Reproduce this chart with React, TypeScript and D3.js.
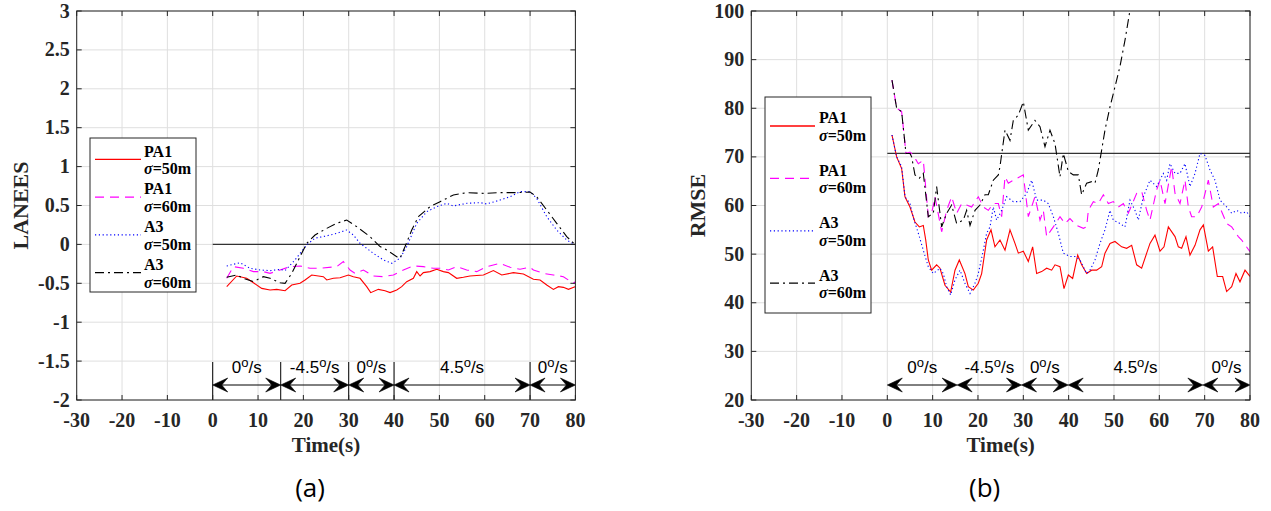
import React from 'react';
import * as d3 from 'd3';

// ---------- shared axis data ----------
const xTicks = [-30, -20, -10, 0, 10, 20, 30, 40, 50, 60, 70, 80];
const lanTicks = [-2, -1.5, -1, -0.5, 0, 0.5, 1, 1.5, 2, 2.5, 3];
const rmseTicks = [20, 30, 40, 50, 60, 70, 80, 90, 100];
const seriesNames = ['PA1', 'PA1', 'A3', 'A3'];
const seriesSigma = ['=50m', '=60m', '=50m', '=60m'];

// ---------- (a) LANEES ----------
const L_pa1_50_t = [3.09,5.29,7.5,8.97,10.81,12.65,14.12,15.96,17.43,19.26,20.37,21.84,23.31,24.41,25.15,26.62,28.09,29.93,31.03,32.5,33.97,34.85,36.54,38.01,39.12,40.59,41.69,42.79,44.26,45,45.74,46.47,47.94,49.41,50.88,51.99,53.82,55.29,56.76,59.71,61.91,63.75,66.32,68.53,70.74,72.21,73.68,75.15,76.25,77.35,78.46,79.93];
const L_pa1_50_v = [-0.543,-0.406,-0.436,-0.492,-0.565,-0.586,-0.578,-0.595,-0.522,-0.5,-0.457,-0.393,-0.406,-0.415,-0.457,-0.436,-0.428,-0.393,-0.415,-0.436,-0.543,-0.62,-0.578,-0.595,-0.62,-0.586,-0.543,-0.479,-0.436,-0.35,-0.406,-0.363,-0.35,-0.32,-0.35,-0.363,-0.436,-0.423,-0.406,-0.393,-0.337,-0.393,-0.363,-0.38,-0.449,-0.457,-0.522,-0.578,-0.543,-0.552,-0.578,-0.543];

const L_pa1_60_t = [3.09,4.56,6.76,8.97,11.18,12.65,14.85,17.06,19.26,21.47,23.68,27.35,28.82,30.29,31.4,33.24,35.44,37.65,39.85,42.06,44.26,46.47,48.68,50.15,51.99,53.82,56.03,58.24,60.44,61.91,63.38,65.59,67.79,70,70.74,72.94,75.15,77.35,79.56,80];
const L_pa1_60_v = [-0.436,-0.286,-0.307,-0.35,-0.35,-0.372,-0.329,-0.286,-0.277,-0.307,-0.307,-0.286,-0.221,-0.329,-0.372,-0.329,-0.406,-0.415,-0.393,-0.329,-0.277,-0.286,-0.307,-0.307,-0.329,-0.286,-0.329,-0.35,-0.286,-0.265,-0.243,-0.294,-0.32,-0.294,-0.329,-0.372,-0.393,-0.415,-0.5,-0.48];

const L_a3_50_t = [3.09,6.03,8.24,10.44,12.65,14.85,15.96,18.16,20.74,22.57,25.15,27.35,29.56,31.03,32.5,35.44,37.65,39.49,41.32,42.79,45,47.21,49.41,51.62,53.09,56.03,58.97,60.44,63.38,65.59,67.79,70,71.47,73.68,75.88,78.09,80];
const L_a3_50_v = [-0.277,-0.235,-0.307,-0.329,-0.337,-0.32,-0.337,-0.199,-0.006,0.08,0.11,0.142,0.185,0.12,0.014,-0.115,-0.199,-0.243,-0.178,-0.028,0.271,0.42,0.485,0.528,0.494,0.528,0.537,0.52,0.57,0.613,0.678,0.678,0.592,0.356,0.185,0.056,-0.006];

const L_a3_60_t = [3.09,5.29,6.76,8.97,11.18,12.65,14.85,15.96,17.43,19.26,20.74,22.57,25.15,27.35,29.56,31.76,34.71,36.91,38.38,40.59,41.32,42.43,43.9,45.37,47.94,50.15,53.09,56.03,59.71,63.38,66.32,70,71.47,73.68,75.88,78.09,80];
const L_a3_60_v = [-0.423,-0.393,-0.436,-0.479,-0.415,-0.436,-0.492,-0.5,-0.372,-0.158,0.014,0.12,0.206,0.271,0.313,0.228,0.099,-0.028,-0.071,-0.158,-0.178,-0.028,0.185,0.356,0.485,0.549,0.635,0.665,0.656,0.665,0.665,0.673,0.613,0.442,0.271,0.099,-0.006];

// ---------- (b) RMSE ----------
const R_pa1_50_t = [1.03,2.06,3.16,3.9,5,6.1,7.06,7.94,8.46,9.04,9.78,10.88,11.62,12.72,13.97,14.93,15.88,17.13,17.87,18.97,20.07,20.81,21.91,22.87,23.75,24.85,25.96,27.06,28.16,28.9,30,31.1,32.06,32.94,34.04,35.15,36.25,36.99,38.09,38.97,39.93,40.88,41.99,42.87,43.97,45.07,46.18,47.28,48.01,49.12,50.22,51.69,52.79,53.9,55,56.1,57.21,57.94,59.04,60.15,61.03,61.99,63.46,64.19,64.93,65.88,66.76,67.87,68.97,69.71,70.81,71.76,72.79,73.97,74.85,75.96,76.91,77.79,78.9,80];
const R_pa1_50_v = [74.5,70,67.6,61.8,59.7,56.6,55.6,55.9,53,48.8,46.7,47.8,47.1,43.6,42.2,46.7,48.8,46,43.3,42.6,44,46,52.9,55,51.5,52.9,50.8,55,52.2,50.2,50.6,48.5,51.5,46,46.4,47.1,46.7,47.8,47.4,42.9,45.7,45,49.8,47.8,46,46.7,46.7,47.4,50.2,52.2,52.6,51.5,51.2,51.8,47.8,47.1,50.2,52.2,53.9,50.6,51.5,55.6,53.6,51.5,51.2,53.6,49.8,51.8,55,56,50.6,51.5,45.4,45.4,42.3,43.3,46,44.3,46.7,45.4];

const R_pa1_60_t = [1.03,2.06,3.16,4.12,5,5.74,6.84,7.94,9.04,9.78,10.51,11.99,13.09,14.19,15.29,16.4,17.5,18.6,20.07,21.18,22.28,23.38,24.49,25.22,25.96,26.69,27.79,30,31.1,32.57,33.68,34.41,35.15,36.62,38.09,39.19,40.29,41.76,43.24,43.97,44.34,45.44,46.54,47.65,48.75,49.85,50.96,52.06,53.16,55,56.1,57.21,57.94,59.41,60.15,61.25,62.72,63.46,64.56,65.66,66.4,67.13,68.24,69.34,70.81,71.91,73.01,74.85,75.96,77.43,78.16,80];
const R_pa1_60_v = [85.8,80,79.3,70.7,71,70.3,68.6,69.3,57.7,58.4,61.8,54.6,59,61.8,58.4,60.4,60.1,59.7,61.8,59.7,59,60.4,60.4,57.7,65.9,64.6,65.2,66.3,57.7,61.8,57,59,53.6,55.6,57.7,56.3,57.3,55.9,55.3,55.6,59,60.8,60.4,62.2,60.4,60.8,59.7,60.4,58.4,62.5,62.9,59,57,63.2,65.2,60.4,68,62.5,60.4,65.2,59.7,57.7,57.7,59.7,65.2,59.7,60.4,56.3,55.6,53.6,52.9,50.5];

const R_a3_50_t = [1.03,2.06,3.16,3.9,5,5.74,6.84,7.94,9.04,10.15,11.62,12.35,13.09,13.97,14.93,16.03,17.13,18.24,19.34,20.07,21.18,21.91,22.65,23.38,24.12,25.22,26.32,27.79,29.26,30.74,31.84,32.94,34.41,35.51,36.62,37.72,38.82,40.29,41.4,42.5,43.97,44.71,45.81,46.91,48.01,49.12,49.85,51.32,52.43,53.53,54.63,55.37,56.47,57.94,59.41,60.88,61.62,62.35,63.46,64.56,65.66,66.76,67.87,68.97,70.07,71.18,72.28,73.38,74.85,75.96,77.06,78.16,79.26,80];
const R_a3_50_v = [74.5,70,68,61.8,60.4,57.5,54.3,50.8,47.4,46,47.1,46,43.3,41.6,44.7,46.7,44,41.9,44,46,50.8,54.3,55.6,59.7,57,59,61.8,60.8,60.8,62.5,65.2,61.1,61.1,60.4,57.7,54.3,50.2,49.5,49.5,48.8,46,46.7,48.8,52.2,55,59,57,56.3,55.6,61.1,59,57,61.8,65.2,63.9,66.6,65.2,68.6,66.6,66.6,68.6,63.9,66.6,70.7,70.3,67.3,65.2,61.1,59.7,58.4,59,58.4,58.7,57.7];

const R_a3_60_t = [1.03,2.06,3.16,4.12,5,5.37,6.1,7.06,7.94,9.04,10.15,10.88,11.99,13.09,14.19,15.29,16.76,17.5,18.24,19.34,20.44,21.54,22.28,23.38,24.49,24.85,25.96,27.06,27.79,28.9,30,31.1,32.57,33.68,34.78,35.88,36.99,38.09,38.82,39.93,41.03,42.13,42.87,43.97,45.07,45.81,46.54,47.28,48.01,49.12,50.22,51.32,52.43,53.5,54.5];
const R_a3_60_v = [85.8,80,79.3,70.7,70.7,70,66.3,65.6,66.6,57.7,58.4,63.9,55.6,58.4,60.1,56.3,57,59,55.9,59,60.1,62.2,62.2,65.2,66.3,68,75.5,73.4,77.5,78.6,81.3,75.5,77.5,76.2,72.1,75.5,72.7,65.9,70.7,67,66.3,66.3,62.2,64.6,64.9,64.6,67.3,71.4,75.5,80.3,84.4,88.6,94,100,105];

// reference levels and manoeuvre segments
const lanRef = 0;
const rmseRef = 70.7;
const segA = [0, 15, 30, 40, 70, 80];
const segB = [0, 15.4, 29.6, 39.9, 69.6, 80];
const segLabels = ['0', '-4.5', '0', '4.5', '0'];

const styles = [
  { color: '#ff0000', dash: 'none' },
  { color: '#ff00ff', dash: '9,6' },
  { color: '#0000ff', dash: '1.2,2.6' },
  { color: '#000000', dash: '9,4,2,4' },
];

const SERIF = '"Liberation Serif", "Times New Roman", serif';
const SANS = '"Liberation Sans", Arial, sans-serif';
const AX = '#262626';

type PanelCfg = {
  id: string;
  x0: number; x1: number; y0: number; y1: number;
  yDomain: [number, number];
  yTicks: number[];
  yLabel: string; yLabelX: number;
  data: { t: number[]; v: number[] }[];
  ref: number;
  seg: number[];
  vlines: boolean;
  legend: { x: number; y: number; w: number; h: number; ly0: number; gap: number; lx0: number; lx1: number; tx: number };
  tag: string;
};

function Arrowhead({ x, y, dir }: { x: number; y: number; dir: number }) {
  const L = 15, H = 7, N = 9;
  const d = `M${x},${y} L${x + dir * L},${y - H} L${x + dir * N},${y} L${x + dir * L},${y + H} Z`;
  return <path d={d} fill="#000" stroke="#000" strokeWidth={0.6} />;
}

function Panel({ c }: { c: PanelCfg }) {
  const x = d3.scaleLinear().domain([-30, 80]).range([c.x0, c.x1]);
  const y = d3.scaleLinear().domain(c.yDomain).range([c.y1, c.y0]);
  const line = d3.line<[number, number]>().x(d => x(d[0])).y(d => y(d[1]));
  const tl = 5;
  const arrowY = c.y1 - 15;
  const textY = c.y1 - 27;
  return (
    <g>
      <defs>
        <clipPath id={`clip-${c.id}`}>
          <rect x={c.x0} y={c.y0} width={c.x1 - c.x0} height={c.y1 - c.y0} />
        </clipPath>
      </defs>
      <rect x={c.x0} y={c.y0} width={c.x1 - c.x0} height={c.y1 - c.y0} fill="#fff" />
      {/* grid */}
      {xTicks.map(t => (
        <line key={'gx' + t} x1={x(t)} x2={x(t)} y1={c.y0} y2={c.y1} stroke="#dfdfdf" strokeWidth={1} />
      ))}
      {c.yTicks.map(t => (
        <line key={'gy' + t} x1={c.x0} x2={c.x1} y1={y(t)} y2={y(t)} stroke="#dfdfdf" strokeWidth={1} />
      ))}
      {/* reference line */}
      <line x1={x(0)} x2={x(80)} y1={y(c.ref)} y2={y(c.ref)} stroke="#333" strokeWidth={1.2} />
      {/* data */}
      <g clipPath={`url(#clip-${c.id})`}>
        {c.data.map((s, i) => (
          <path key={i} d={line(s.t.map((t, k) => [t, s.v[k]] as [number, number])) || ''} fill="none"
            stroke={styles[i].color} strokeWidth={1.1} strokeDasharray={styles[i].dash} />
        ))}
      </g>
      {/* manoeuvre annotations */}
      {c.vlines && c.seg.slice(0, -1).map((s, i) => (
        <line key={'vl' + i} x1={x(s)} x2={x(s)} y1={c.y1 - 38} y2={c.y1} stroke="#000" strokeWidth={1} />
      ))}
      {c.seg.slice(0, -1).map((s, i) => {
        const a = x(s), b = x(c.seg[i + 1]);
        return (
          <g key={'ar' + i}>
            <line x1={a + 4} x2={b - 4} y1={arrowY} y2={arrowY} stroke="#000" strokeWidth={1} />
            <Arrowhead x={a} y={arrowY} dir={1} />
            <Arrowhead x={b} y={arrowY} dir={-1} />
            <text x={(a + b) / 2} y={textY} textAnchor="middle" fontFamily={SANS} fontSize={17} fill="#000">
              <tspan>{segLabels[i]}</tspan>
              <tspan dy={-6} fontSize={13}>o</tspan>
              <tspan dy={6}>/s</tspan>
            </text>
          </g>
        );
      })}
      {/* box */}
      <rect x={c.x0} y={c.y0} width={c.x1 - c.x0} height={c.y1 - c.y0} fill="none" stroke={AX} strokeWidth={1} />
      {/* ticks */}
      {xTicks.map(t => (
        <g key={'tx' + t}>
          <line x1={x(t)} x2={x(t)} y1={c.y1} y2={c.y1 - tl} stroke={AX} />
          <line x1={x(t)} x2={x(t)} y1={c.y0} y2={c.y0 + tl} stroke={AX} />
          <text x={x(t)} y={c.y1 + 27} textAnchor="middle" fontFamily={SERIF} fontWeight="bold" fontSize={20} fill={AX}>{t}</text>
        </g>
      ))}
      {c.yTicks.map(t => (
        <g key={'ty' + t}>
          <line x1={c.x0} x2={c.x0 + tl} y1={y(t)} y2={y(t)} stroke={AX} />
          <line x1={c.x1} x2={c.x1 - tl} y1={y(t)} y2={y(t)} stroke={AX} />
          <text x={c.x0 - 7} y={y(t) + 6.5} textAnchor="end" fontFamily={SERIF} fontWeight="bold" fontSize={20} fill={AX}>{t}</text>
        </g>
      ))}
      {/* axis labels */}
      <text x={(c.x0 + c.x1) / 2} y={c.y1 + 52} textAnchor="middle" fontFamily={SERIF} fontWeight="bold" fontSize={21} fill={AX}>Time(s)</text>
      <text transform={`translate(${c.yLabelX},${(c.y0 + c.y1) / 2}) rotate(-90)`} textAnchor="middle"
        fontFamily={SERIF} fontWeight="bold" fontSize={22} fill={AX}>{c.yLabel}</text>
      {/* legend */}
      <rect x={c.legend.x} y={c.legend.y} width={c.legend.w} height={c.legend.h} fill="#fff" stroke={AX} strokeWidth={1} />
      {seriesNames.map((n, i) => {
        const ly = c.legend.ly0 + i * c.legend.gap;
        return (
          <g key={'lg' + i}>
            <line x1={c.legend.lx0} x2={c.legend.lx1} y1={ly} y2={ly} stroke={styles[i].color}
              strokeWidth={1.3} strokeDasharray={styles[i].dash} />
            <text x={c.legend.tx} y={ly - 2.7} fontFamily={SERIF} fontWeight="bold" fontSize={16} fill="#000">{n}</text>
            <text x={c.legend.tx} y={ly + 15} fontFamily={SERIF} fontWeight="bold" fontSize={16} fill="#000">
              <tspan fontStyle="italic">σ</tspan>{seriesSigma[i]}
            </text>
          </g>
        );
      })}
      <text x={(c.x0 + c.x1) / 2 - 16} y={c.y1 + 97} textAnchor="middle" fontFamily='"Open Sans", "Noto Sans", sans-serif' fontSize={26} fill="#000">{c.tag}</text>
    </g>
  );
}

const panelA: PanelCfg = {
  id: 'a', x0: 76.7, x1: 575.4, y0: 11, y1: 400,
  yDomain: [-2, 3], yTicks: lanTicks, yLabel: 'LANEES', yLabelX: 28,
  data: [
    { t: L_pa1_50_t, v: L_pa1_50_v },
    { t: L_pa1_60_t, v: L_pa1_60_v },
    { t: L_a3_50_t, v: L_a3_50_v },
    { t: L_a3_60_t, v: L_a3_60_v },
  ],
  ref: lanRef, seg: segA, vlines: true,
  legend: { x: 90, y: 138, w: 106, h: 154, ly0: 159.3, gap: 37.8, lx0: 95, lx1: 141, tx: 144 },
  tag: '(a)',
};

const panelB: PanelCfg = {
  id: 'b', x0: 751.3, x1: 1250, y0: 11, y1: 400,
  yDomain: [20, 100], yTicks: rmseTicks, yLabel: 'RMSE', yLabelX: 705,
  data: [
    { t: R_pa1_50_t, v: R_pa1_50_v },
    { t: R_pa1_60_t, v: R_pa1_60_v },
    { t: R_a3_50_t, v: R_a3_50_v },
    { t: R_a3_60_t, v: R_a3_60_v },
  ],
  ref: rmseRef, seg: segB, vlines: false,
  legend: { x: 765, y: 97, w: 106, h: 216, ly0: 126, gap: 52.4, lx0: 770, lx1: 815, tx: 819 },
  tag: '(b)',
};

export default function App() {
  return (
    <svg width={1271} height={511} style={{ position: 'absolute', left: 0, top: 0, background: '#fff' }}>
      <rect width={1271} height={511} fill="#fff" />
      <Panel c={panelA} />
      <Panel c={panelB} />
    </svg>
  );
}
